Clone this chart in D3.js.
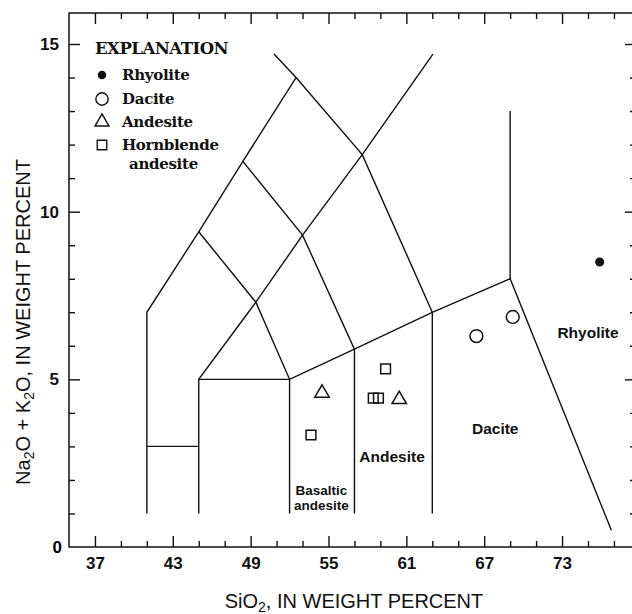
<!DOCTYPE html>
<html>
<head>
<meta charset="utf-8">
<script src="https://cdn.jsdelivr.net/npm/d3@7"></script>
<style>
  body { margin: 0; background: #fff; }
  svg { display: block; }
  .tick text { font-family: "Liberation Sans", Arial, sans-serif; font-weight: bold; font-size: 17px; fill: #111; }
  .tick line, .domain { stroke: #111; stroke-width: 1.4; }
</style>
</head>
<body>
<svg id="chart" width="632" height="614"></svg>
<script>
// TAS diagram, values
const SIO2_MAJOR = [37, 43, 49, 55, 61, 67, 73];
const SIO2_MINOR = [39, 41, 45, 47, 51, 53, 57, 59, 63, 65, 69, 71, 75, 77];
const ALK_MAJOR = [0, 5, 10, 15];
const ALK_MINOR = [1, 2, 3, 4, 6, 7, 8, 9, 11, 12, 13, 14];

// field boundaries, [SiO2, Na2O+K2O]
const BOUNDARIES = [
  [[41, 1], [41, 7], [45, 9.4], [48.4, 11.5], [52.5, 14]],
  [[50.8, 14.7], [52.5, 14], [57.6, 11.7], [63, 7]],
  [[45, 1], [45, 5], [49.4, 7.3], [53, 9.3], [57.6, 11.7], [63.05, 14.7]],
  [[45, 9.4], [49.4, 7.3], [52, 5], [52, 1]],
  [[48.4, 11.5], [53, 9.3], [57, 5.9], [57, 1]],
  [[41, 3], [45, 3]],
  [[45, 5], [52, 5], [57, 5.9], [63, 7], [69, 8], [76.8, 0.5]],
  [[63, 7], [63, 1]],
  [[69, 8], [69, 13]]
];

const RHYOLITE = [[75.9, 8.5]];
const DACITE = [[66.4, 6.29], [69.2, 6.86]];
const ANDESITE = [[54.5, 4.59], [60.45, 4.4]];
const HBL_ANDESITE = [[53.65, 3.34], [59.4, 5.31], [58.45, 4.44], [58.85, 4.44]];

const FIELD_NAMES = ['Rhyolite', 'Dacite', 'Andesite', 'Basaltic', 'andesite'];
const FIELD_SIO2 = [75.0, 67.85, 59.9, 54.45, 54.45];
const FIELD_ALK = [6.4, 3.55, 2.7, 1.7, 1.25];

const LEGEND_NAMES = ['Rhyolite', 'Dacite', 'Andesite', 'Hornblende'];

const svg = d3.select('#chart');
const x = d3.scaleLinear().domain([35, 78.7]).range([69, 636]);
const y = d3.scaleLinear().domain([0, 15]).range([547, 44]);
const yTop = 13;
const yBottom = y(0);

// axes: long inward ticks for majors, short for minors
function addAxis(axisFn, scale, major, minor, transform, labels) {
  const gMinor = svg.append('g').attr('transform', transform)
    .call(axisFn(scale).tickValues(minor).tickSize(-6).tickSizeOuter(0).tickFormat(''));
  gMinor.select('.domain').remove();
  const g = svg.append('g').attr('transform', transform)
    .call(axisFn(scale).tickValues(major).tickSize(-11).tickSizeOuter(0).tickPadding(labels ? 10 : 0)
      .tickFormat(labels ? d3.format('d') : ''));
  g.select('.domain').remove();
  return g;
}
addAxis(d3.axisBottom, x, SIO2_MAJOR, SIO2_MINOR, `translate(0,${yBottom})`, true);
addAxis(d3.axisTop, x, SIO2_MAJOR, SIO2_MINOR, `translate(0,${yTop})`, false);
addAxis(d3.axisLeft, y, ALK_MAJOR.filter(d => d > 0), ALK_MINOR, `translate(${x(35)},0)`, true);
addAxis(d3.axisRight, y, ALK_MAJOR.filter(d => d > 0), ALK_MINOR, `translate(${x(78.7)},0)`, false);

// zero label sits at the corner
svg.append('text').attr('x', 62).attr('y', yBottom + 6)
  .attr('text-anchor', 'end')
  .style('font-family', '"Liberation Sans", Arial, sans-serif')
  .style('font-weight', 'bold').style('font-size', '17px')
  .text('0');

// frame
svg.append('rect')
  .attr('x', x(35)).attr('y', yTop)
  .attr('width', x(78.7) - x(35)).attr('height', yBottom - yTop)
  .attr('fill', 'none').attr('stroke', '#111').attr('stroke-width', 1.5);

// field boundaries
const line = d3.line().x(d => x(d[0])).y(d => y(d[1]));
svg.append('g').selectAll('path').data(BOUNDARIES).enter().append('path')
  .attr('d', line)
  .attr('fill', 'none').attr('stroke', '#111').attr('stroke-width', 1.4);

// field names
svg.append('g').selectAll('text').data(FIELD_NAMES).enter().append('text')
  .attr('x', (d, i) => x(FIELD_SIO2[i]))
  .attr('y', (d, i) => y(FIELD_ALK[i]))
  .attr('dy', '0.36em')
  .attr('text-anchor', 'middle')
  .style('font-family', '"Liberation Sans", Arial, sans-serif')
  .style('font-weight', 'bold')
  .style('font-size', (d, i) => i >= 3 ? '13.5px' : '15.5px')
  .style('fill', '#111')
  .text(d => d);

// samples
const sym = (type, size) => d3.symbol().type(type).size(size)();
function drawPoints(data, path, filled) {
  svg.append('g').selectAll('path').data(data).enter().append('path')
    .attr('transform', d => `translate(${x(d[0])},${y(d[1])})`)
    .attr('d', path)
    .attr('fill', filled ? '#111' : 'none')
    .attr('stroke', '#111').attr('stroke-width', 1.5);
}
drawPoints(RHYOLITE, sym(d3.symbolCircle, 45), true);
drawPoints(DACITE, sym(d3.symbolCircle, 130), false);
drawPoints(ANDESITE, sym(d3.symbolTriangle, 90), false);
drawPoints(HBL_ANDESITE, sym(d3.symbolSquare, 95), false);

// explanation
const leg = svg.append('g')
  .style('font-family', '"DejaVu Serif", "Liberation Serif", serif')
  .style('font-weight', 'bold').style('fill', '#111');
leg.append('text').attr('x', 95).attr('y', 54).style('font-size', '16.5px')
  .style('letter-spacing', '-0.5px').text('EXPLANATION');
const legSyms = [sym(d3.symbolCircle, 40), sym(d3.symbolCircle, 120), sym(d3.symbolTriangle, 85), sym(d3.symbolSquare, 90)];
const legFill = [true, false, false, false];
const legY = [80, 104, 127, 150];
leg.selectAll('path').data(LEGEND_NAMES).enter().append('path')
  .attr('transform', (d, i) => `translate(102,${legY[i] - 5})`)
  .attr('d', (d, i) => legSyms[i])
  .attr('fill', (d, i) => legFill[i] ? '#111' : 'none')
  .attr('stroke', '#111').attr('stroke-width', 1.4);
leg.selectAll('text.item').data(LEGEND_NAMES).enter().append('text')
  .attr('class', 'item')
  .attr('x', 122).attr('y', (d, i) => legY[i])
  .style('font-size', '15px').style('letter-spacing', '-0.3px')
  .text(d => d);
leg.append('text').attr('x', 129).attr('y', 168.5).style('font-size', '15px')
  .style('letter-spacing', '-0.3px').text('andesite');

// axis titles
const titleFont = '"Liberation Sans", Arial, sans-serif';
const xt = svg.append('text').attr('x', 354).attr('y', 608).attr('text-anchor', 'middle')
  .style('font-family', titleFont).style('font-size', '20px').style('fill', '#111');
xt.append('tspan').text('SiO');
xt.append('tspan').attr('dy', 4).style('font-size', '14px').text('2');
xt.append('tspan').attr('dy', -4).text(', IN WEIGHT PERCENT');

const yt = svg.append('text').attr('transform', 'translate(30,322) rotate(-90)').attr('text-anchor', 'middle')
  .style('font-family', titleFont).style('font-size', '20px').style('fill', '#111');
yt.append('tspan').text('Na');
yt.append('tspan').attr('dy', 4).style('font-size', '14px').text('2');
yt.append('tspan').attr('dy', -4).text('O + K');
yt.append('tspan').attr('dy', 4).style('font-size', '14px').text('2');
yt.append('tspan').attr('dy', -4).text('O, IN WEIGHT PERCENT');
</script>
</body>
</html>
